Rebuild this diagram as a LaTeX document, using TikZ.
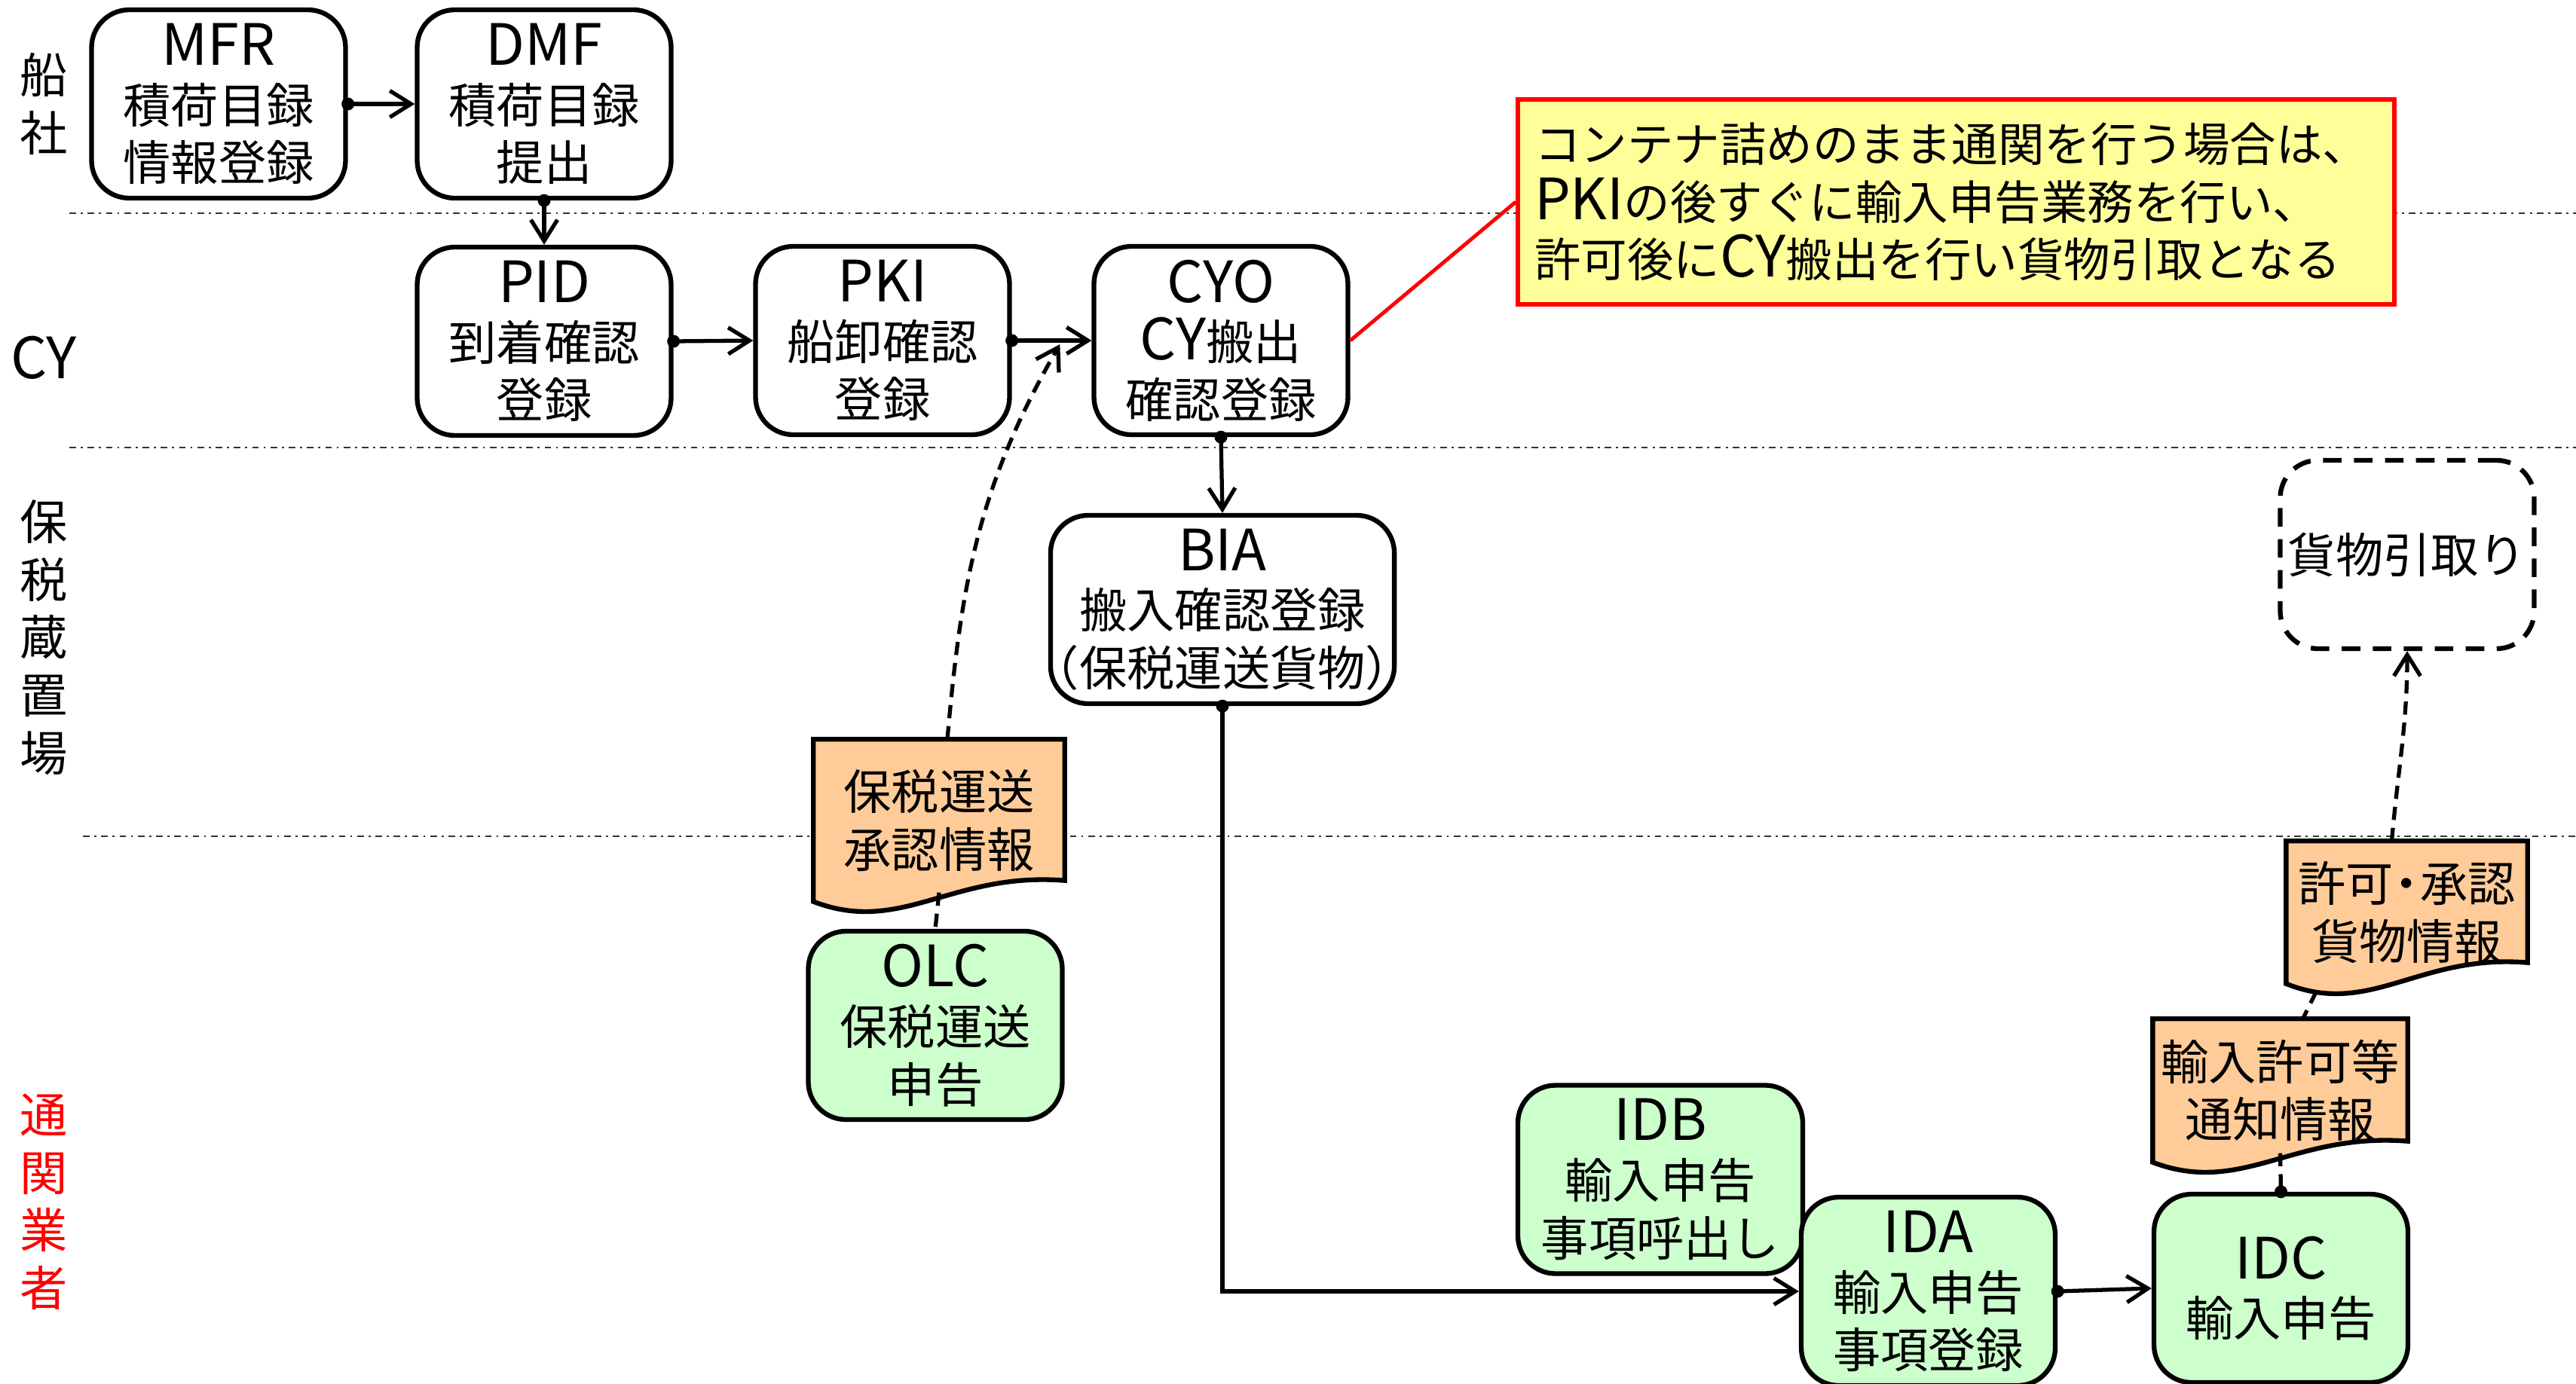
\documentclass[tikz,border=0pt]{standalone}
\usepackage{fontspec}
\setmainfont{Noto Sans CJK JP}
\usetikzlibrary{arrows.meta,calc,backgrounds}

\definecolor{declgreen}{HTML}{CCFFCC}
\definecolor{docorange}{HTML}{FFCC99}
\definecolor{noteyellow}{HTML}{FFFF99}

\newcommand{\boxfont}{\fontsize{18}{21.8}\selectfont}
\newcommand{\notefont}{\fontsize{17.5}{21.8}\selectfont}
\newcommand{\proccode}[1]{{\fontsize{21.5}{21.8}\selectfont #1}}

% document symbol with a wavy bottom, behind its text
\newcommand{\docshape}[1]{%
  \begin{scope}[on background layer]
    \draw[docline] (#1.north west) -- (#1.north east) -- ($(#1.south east)+(0,0.28)$)
      .. controls ($(#1.south west)!0.55!(#1.south east)+(0,0.40)$) and ($(#1.south west)!0.35!(#1.south east)+(0,-0.45)$) .. (#1.south west) -- cycle;
  \end{scope}}

\tikzset{
  proc/.style={draw, line width=1.8pt, rounded corners=0.5cm, fill=white, minimum width=3.37cm, minimum height=2.5cm, align=center, font=\boxfont, inner sep=1pt},
  decl/.style={proc, fill=declgreen},
  docnode/.style={align=center, font=\boxfont, inner sep=0pt},
  docline/.style={line width=1.8pt, fill=docorange},
  lane/.style={align=center, font=\boxfont},
  sepline/.style={line width=0.7pt, black!80, dash pattern=on 2.5pt off 1.8pt on 0.8pt off 1.8pt},
  flow/.style={line width=1.5pt, arrows={Circle[length=4.8pt]-Straight Barb[length=8pt,width=10pt]}, shorten <=-2.4pt},
  infolink/.style={line width=1.5pt, dash pattern=on 5pt off 3pt},
  infoflow/.style={infolink, arrows={-Straight Barb[length=8pt,width=10pt]}},
  note/.style={draw=red, line width=1.6pt, fill=noteyellow, text width=11.19cm, align=left, inner sep=0.22cm, minimum height=2.72cm, font=\notefont}
}

\begin{document}
\begin{tikzpicture}
	\useasboundingbox (0,0) rectangle (34.18,-18.36);
	% lanes
	\begin{scope}[on background layer]
		\draw[sepline] (0.92,-2.83) -- (34.18,-2.83);
		\draw[sepline] (0.92,-5.94) -- (34.18,-5.94);
		\draw[sepline] (1.10,-11.10) -- (34.18,-11.10);
	\end{scope}
	\node[lane] (shiplane) at (0.58,-1.38) {船\\社};
	\node[lane] (cylane) at (0.58,-4.75) {\proccode{CY}};
	\node[lane] (bondlane) at (0.58,-8.46) {保\\税\\蔵\\置\\場};
	\node[lane, text=red] (brokerlane) at (0.58,-15.95) {通\\関\\業\\者};

	% procedures
	\node[proc] (MFR) at (2.90,-1.38) {\proccode{MFR}\\積荷目録\\情報登録};
	\node[proc] (DMF) at (7.22,-1.38) {\proccode{DMF}\\積荷目録\\提出};
	\node[proc] (PID) at (7.22,-4.53) {\proccode{PID}\\到着確認\\登録};
	\node[proc] (PKI) at (11.71,-4.52) {\proccode{PKI}\\船卸確認\\登録};
	\node[proc] (CYO) at (16.20,-4.52) {\proccode{CYO}\\\proccode{CY}搬出\\確認登録};
	\node[proc, minimum width=4.55cm] (BIA) at (16.22,-8.09) {\proccode{BIA}\\搬入確認登録\\\kern-.45em（保税運送貨物）\kern-.45em};
	\node[proc, dash pattern=on 7pt off 4.7pt] (pickup) at (31.94,-7.36) {貨物引取り};
	\node[decl] (OLC) at (12.41,-13.61) {\proccode{OLC}\\保税運送\\申告};
	\node[decl, minimum width=3.78cm] (IDB) at (22.03,-15.655) {\proccode{IDB}\\輸入申告\\事項呼出し};
	\node[decl] (IDA) at (25.585,-17.14) {\proccode{IDA}\\輸入申告\\事項登録};
	\node[decl] (IDC) at (30.265,-17.10) {\proccode{IDC}\\輸入申告};

	% documents
	\node[docnode, minimum width=3.32cm, minimum height=2.14cm] (olcdoc) at (12.46,-10.89) {保税運送\\承認情報};
	\node[docnode, minimum width=3.19cm, minimum height=1.88cm] (permitdoc) at (31.935,-12.11) {許可\kern-.22em・\kern-.22em 承認\\貨物情報};
	\node[docnode, minimum width=3.37cm, minimum height=1.89cm] (noticedoc) at (30.255,-14.475) {輸入許可等\\通知情報};
	\docshape{olcdoc}
	\docshape{permitdoc}
	\docshape{noticedoc}

	\node[note] (note) at (25.955,-2.68) {コンテナ詰めのまま通関を行う場合は、\\\proccode{PKI}の後すぐに輸入申告業務を行い、\\許可後に\proccode{CY}搬出を行い貨物引取となる};

	% connectors
	\draw[flow] (MFR.east) -- (DMF.west);
	\draw[flow] (DMF.south) -- (PID.north);
	\draw[flow] (PID.east) -- (PKI.west);
	\draw[flow] (PKI.east) -- (CYO.west);
	\draw[flow] (CYO.south) -- (BIA.north);
	\draw[flow] (BIA.south) |- (IDA.west);
	\draw[flow] (IDA.east) -- (IDC.west);
	\draw[infoflow] ([xshift=0.11cm]olcdoc.north) to[out=85,in=240] ([xshift=-0.42cm,yshift=-0.05cm]CYO.west);
	\draw[infolink] ([yshift=0.12cm]olcdoc.south) -- (OLC.north);
	\draw[infolink, arrows={Circle[length=4.8pt]-}, shorten <=-2.4pt] (IDC.north) -- ([yshift=0.12cm]noticedoc.south);
	\draw[infolink] ([xshift=-1.2cm,yshift=-0.1cm]permitdoc.south) -- ([xshift=0.3cm]noticedoc.north);
	\draw[infoflow] ([xshift=-0.2cm]permitdoc.north) to[out=85,in=-90] (pickup.south);
	\draw[red, line width=1.4pt] (CYO.east) -- (note.west);
\end{tikzpicture}
\end{document}
